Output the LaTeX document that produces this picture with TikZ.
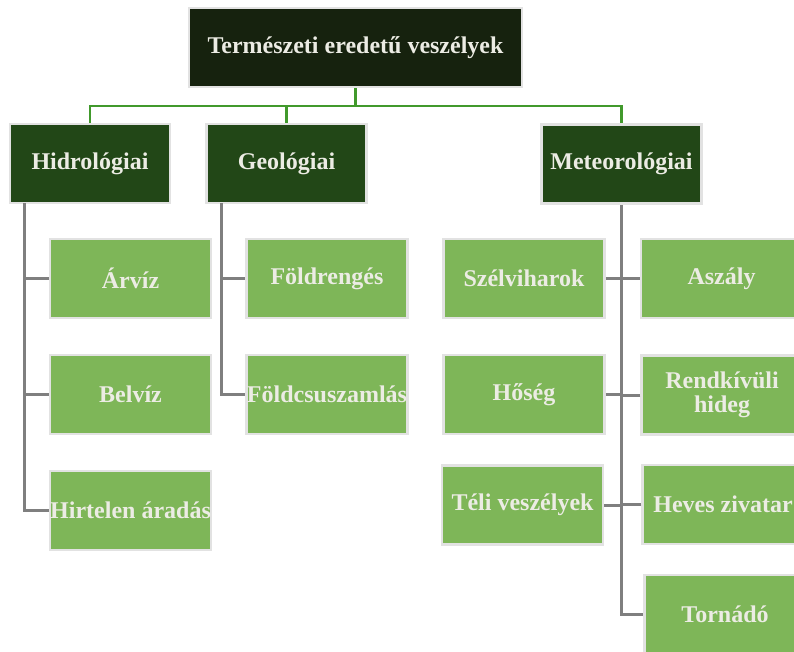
\documentclass[tikz,border=0pt]{standalone}
\usepackage{fontspec}
\setmainfont{Liberation Serif}
\definecolor{topfill}{HTML}{16220E}
\definecolor{midfill}{HTML}{224717}
\definecolor{leaffill}{HTML}{7EB658}
\definecolor{boxrim}{HTML}{E2E2E2}
\definecolor{txtcol}{HTML}{ECECE4}
\definecolor{greenline}{HTML}{41992C}
\definecolor{grayline}{HTML}{7F7F7F}
\tikzset{
  basebox/.style={rectangle, draw=boxrim, line width=2.5pt, inner sep=0pt,
    align=center, text=txtcol,
    font=\fontsize{24}{24.5}\selectfont\bfseries},
  topbox/.style={basebox, fill=topfill, minimum width=333pt, minimum height=79pt},
  midbox/.style={basebox, fill=midfill, minimum width=160pt, minimum height=79pt},
  leafbox/.style={basebox, fill=leaffill, minimum width=161pt, minimum height=79pt},
  gline/.style={draw=greenline, line width=2.5pt},
  kline/.style={draw=grayline, line width=3pt},
}
\begin{document}
\begin{tikzpicture}[x=1pt,y=-1pt]
\useasboundingbox (0,0) rectangle (794,651);
\clip (0,0) rectangle (794,651);
\fill[white] (0,0) rectangle (794,651);

\coordinate (bus) at (355.5,106);
\coordinate (hroot) at (24,203);
\coordinate (groot) at (221,203);

\node[topbox] (top) at (355.5,47.5) {Természeti eredetű veszélyek};
\node[midbox] (hidro) at (90,163.5) {Hidrológiai};
\node[midbox] (geo) at (286.5,163.5) {Geológiai};
\node[midbox] (meteo) at (621.5,164) {Meteorológiai};

\node[leafbox] (arviz) at (130.5,278.5) {Árvíz};
\node[leafbox] (belviz) at (130.5,394.5) {Belvíz};
\node[leafbox] (hirtelen) at (130.5,510.5) {Hirtelen áradás};
\node[leafbox] (foldr) at (327,278.5) {Földrengés};
\node[leafbox] (foldcs) at (327,394.5) {Földcsuszamlás};
\node[leafbox] (szel) at (524,278.5) {Szélviharok};
\node[leafbox] (hoseg) at (524,394.5) {Hőség};
\node[leafbox] (teli) at (522.5,505) {Téli veszélyek};
\node[leafbox] (aszaly) at (721.5,278.5) {Aszály};
\node[leafbox] (rendk) at (722,395) {Rendkívüli\\hideg};
\node[leafbox] (heves) at (723,504.5) {Heves zivatar};
\node[leafbox] (tornado) at (725,614.5) {Tornádó};

% green tree connectors
\draw[gline] (top.south) -- (bus);
\draw[gline] (hidro.north) |- (bus) -| (meteo.north);
\draw[gline] (geo.north) -- (geo.north |- bus);

% Hidrológiai
\draw[kline] (hroot) |- (hirtelen.west);
\draw[kline] (hroot |- arviz.west) -- (arviz.west);
\draw[kline] (hroot |- belviz.west) -- (belviz.west);

% Geológiai
\draw[kline] (groot) |- (foldcs.west);
\draw[kline] (groot |- foldr.west) -- (foldr.west);

% Meteorológiai
\draw[kline] (meteo.south) |- (tornado.west);
\draw[kline] (szel.east) -- (szel.east -| meteo.south);
\draw[kline] (aszaly.west) -- (aszaly.west -| meteo.south);
\draw[kline] (hoseg.east) -- (hoseg.east -| meteo.south);
\draw[kline] (rendk.west) -- (rendk.west -| meteo.south);
\draw[kline] (teli.east) -- (teli.east -| meteo.south);
\draw[kline] (heves.west) -- (heves.west -| meteo.south);
\end{tikzpicture}
\end{document}
